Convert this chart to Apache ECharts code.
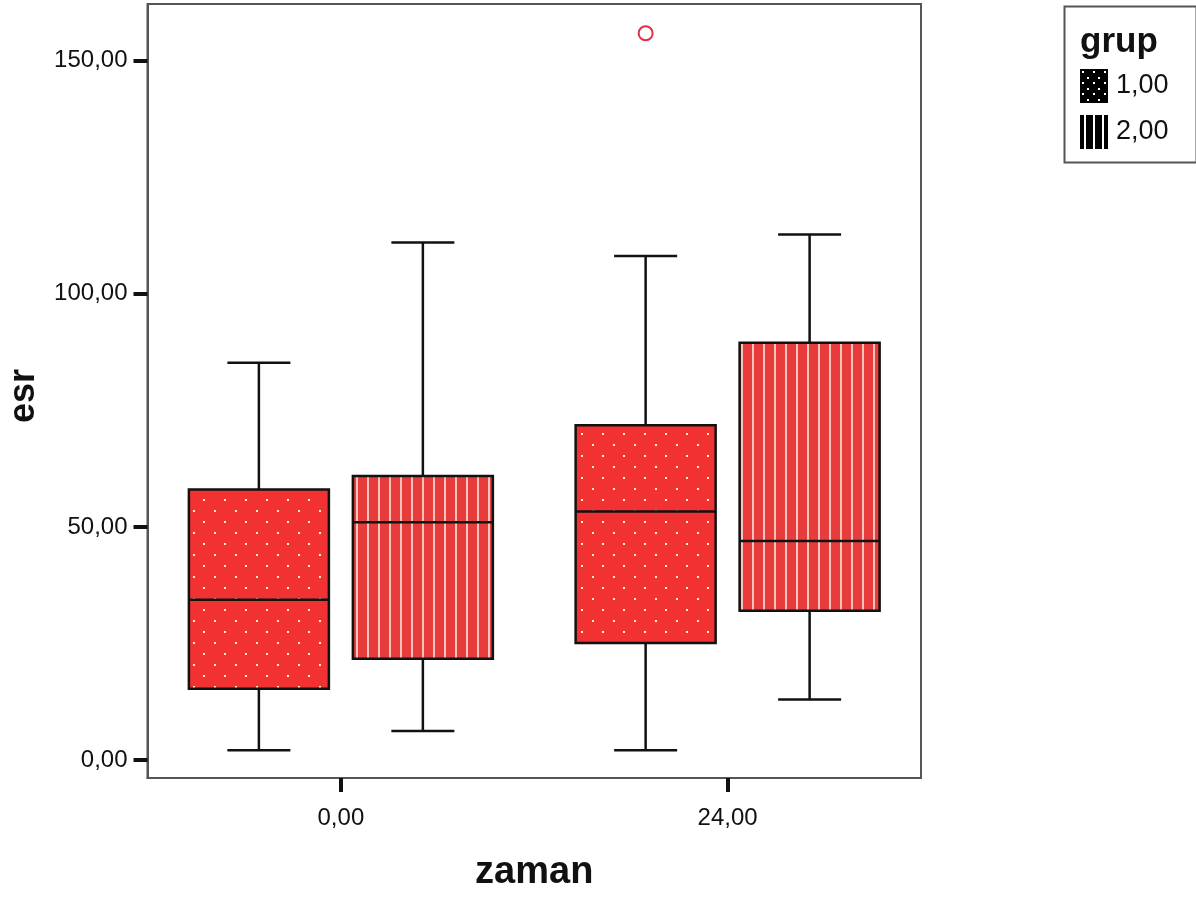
<!DOCTYPE html>
<html>
<head>
<meta charset="utf-8">
<script src="https://cdn.jsdelivr.net/npm/echarts@6/dist/echarts.min.js"></script>
<style>
html,body{margin:0;padding:0;background:#fff;}
#chart{width:1196px;height:908px;}
</style>
</head>
<body>
<div id="chart"></div>
<script>
// ---- data ----
var categories = ['0,00', '24,00'];
var groupNames = ['1,00', '2,00'];
var yTicks = [0, 50, 100, 150];
// [categoryIndex, low whisker, Q1, median, Q3, high whisker]
var group1Boxes = [
  [0, 2.1, 15.3, 34.4, 58.0, 85.2],
  [1, 2.1, 25.1, 53.3, 71.8, 108.1]
];
var group2Boxes = [
  [0, 6.2, 21.7, 51.0, 60.9, 111.0],
  [1, 13.0, 32.0, 47.0, 89.5, 112.7]
];
// [categoryIndex, value]
var group1Outliers = [[1, 155.9]];
var group2Outliers = [];

// ---- styling helpers ----
var FONT = "'Liberation Sans', Arial, sans-serif";
function makePattern(w, h, bg, draw) {
  var c = document.createElement('canvas');
  c.width = w; c.height = h;
  var g = c.getContext('2d');
  g.fillStyle = bg; g.fillRect(0, 0, w, h);
  draw(g);
  return { image: c, repeat: 'repeat' };
}
var redDots = makePattern(21, 22, '#f23232', function (g) {
  g.fillStyle = '#fff1c4';
  g.fillRect(4, 4, 2, 2);
  g.fillRect(14, 15, 2, 2);
});
var redStripes = makePattern(11, 4, '#e83c3c', function (g) {
  g.fillStyle = '#f7c4bc';
  g.fillRect(4, 0, 2, 4);
});
var blackDots = makePattern(11, 11, '#000', function (g) {
  g.fillStyle = '#fff';
  g.fillRect(2, 2, 2, 2);
  g.fillRect(7, 8, 2, 2);
});
var blackStripes = makePattern(9, 4, '#000', function (g) {
  g.fillStyle = '#fff';
  g.fillRect(4, 0, 2, 4);
});
var fills = [redDots, redStripes];
var groupOffset = [-0.212, 0.212];
var boxFrac = 0.362;
var capFrac = 0.45;

function boxRender(gi) {
  return function (params, api) {
    var cat = api.value(0);
    var band = api.size([1, 0])[0];
    var cx = api.coord([cat, 0])[0] + groupOffset[gi] * band;
    var yLow = api.coord([cat, api.value(1)])[1];
    var yQ1 = api.coord([cat, api.value(2)])[1];
    var yMed = api.coord([cat, api.value(3)])[1];
    var yQ3 = api.coord([cat, api.value(4)])[1];
    var yHigh = api.coord([cat, api.value(5)])[1];
    var bw = band * boxFrac, cw = bw * capFrac;
    var ls = { stroke: '#111', lineWidth: 2.5 };
    return {
      type: 'group',
      children: [
        { type: 'line', shape: { x1: cx, y1: yQ1, x2: cx, y2: yLow }, style: ls },
        { type: 'line', shape: { x1: cx, y1: yQ3, x2: cx, y2: yHigh }, style: ls },
        { type: 'line', shape: { x1: cx - cw / 2, y1: yLow, x2: cx + cw / 2, y2: yLow }, style: ls },
        { type: 'line', shape: { x1: cx - cw / 2, y1: yHigh, x2: cx + cw / 2, y2: yHigh }, style: ls },
        { type: 'rect', shape: { x: cx - bw / 2, y: yQ3, width: bw, height: yQ1 - yQ3 },
          style: { fill: fills[gi], stroke: '#111', lineWidth: 2.5 } },
        { type: 'line', shape: { x1: cx - bw / 2, y1: yMed, x2: cx + bw / 2, y2: yMed }, style: ls }
      ]
    };
  };
}
function outlierRender(gi) {
  return function (params, api) {
    var cat = api.value(0);
    var band = api.size([1, 0])[0];
    var p = api.coord([cat, api.value(1)]);
    return {
      type: 'circle',
      shape: { cx: p[0] + groupOffset[gi] * band, cy: p[1], r: 7 },
      style: { fill: 'none', stroke: '#e0304a', lineWidth: 2 }
    };
  };
}

var chart = echarts.init(document.getElementById('chart'), null, { renderer: 'canvas' });
chart.setOption({
  backgroundColor: '#fff',
  animation: false,
  grid: { left: 147.5, top: 4, right: 275, bottom: 130, show: true, borderColor: '#555', borderWidth: 2,
          backgroundColor: 'transparent', containLabel: false, outerBoundsMode: 'none' },
  xAxis: {
    type: 'category',
    data: categories,
    name: 'zaman',
    nameLocation: 'middle',
    nameGap: 76,
    nameTextStyle: { fontFamily: FONT, fontWeight: 'bold', fontSize: 38, color: '#111', verticalAlign: 'top' },
    axisLine: { show: true, onZero: false, lineStyle: { color: '#555', width: 2 } },
    axisTick: { show: true, alignWithLabel: true, length: 14, lineStyle: { color: '#111', width: 4 } },
    axisLabel: { fontFamily: FONT, fontSize: 24, color: '#111', margin: 28 },
    splitLine: { show: false }
  },
  yAxis: {
    type: 'value',
    min: -3.86,
    max: 162.17,
    name: 'esr',
    nameLocation: 'middle',
    nameRotate: 90,
    nameGap: 105,
    nameTextStyle: { fontFamily: FONT, fontWeight: 'bold', fontSize: 36, color: '#111', padding: [0, 10, 0, 0] },
    axisLine: { show: true, lineStyle: { color: '#555', width: 2 } },
    axisTick: { show: true, length: 14, customValues: yTicks, lineStyle: { color: '#111', width: 4 } },
    axisLabel: {
      fontFamily: FONT, fontSize: 24, color: '#111', margin: 20,
      customValues: yTicks,
      formatter: function (v) { return v.toFixed(2).replace('.', ','); }
    },
    splitLine: { show: false }
  },
  legend: {
    orient: 'vertical',
    left: 1080,
    top: 69,
    itemWidth: 28,
    itemHeight: 34,
    itemGap: 12,
    padding: 0,
    selectedMode: false,
    textStyle: { fontFamily: FONT, fontSize: 27, color: '#111', padding: [0, 0, 0, 3] },
    data: [
      { name: groupNames[0], icon: 'rect', itemStyle: { color: blackDots, borderWidth: 0 } },
      { name: groupNames[1], icon: 'rect', itemStyle: { color: blackStripes, borderWidth: 0 } }
    ]
  },
  graphic: [
    { type: 'rect', left: 1062, top: 4, shape: { width: 132, height: 156 }, style: { fill: 'none', stroke: '#555', lineWidth: 2 } },
    { type: 'text', left: 1080, top: 25, style: { text: 'grup', font: "bold 35px 'Liberation Sans', Arial, sans-serif", fill: '#111' } }
  ],
  series: [
    { type: 'custom', name: groupNames[0], renderItem: boxRender(0), data: group1Boxes,
      encode: { x: 0, y: [1, 2, 3, 4, 5] }, itemStyle: { color: '#f23232' } },
    { type: 'custom', name: groupNames[1], renderItem: boxRender(1), data: group2Boxes,
      encode: { x: 0, y: [1, 2, 3, 4, 5] }, itemStyle: { color: '#e83c3c' } },
    { type: 'custom', name: 'outliers1', renderItem: outlierRender(0), data: group1Outliers,
      encode: { x: 0, y: 1 } },
    { type: 'custom', name: 'outliers2', renderItem: outlierRender(1), data: group2Outliers,
      encode: { x: 0, y: 1 } }
  ]
});
</script>
</body>
</html>
